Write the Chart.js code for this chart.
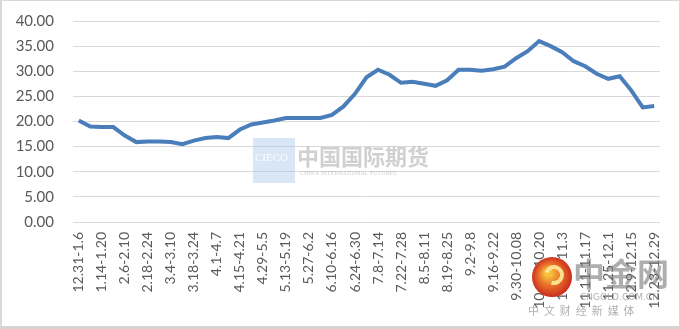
<!DOCTYPE html>
<html>
<head>
<meta charset="utf-8">
<script src="https://cdn.jsdelivr.net/npm/chart.js@4.4.1/dist/chart.umd.min.js"></script>
<style>
html,body{margin:0;padding:0;background:#fff;}
#wrap{position:relative;width:680px;height:329px;box-sizing:border-box;border:1px solid #d9d9d9;border-bottom:3px solid #d4d4d4;border-left:2px solid #d9d9d9;}
canvas{display:block;}
</style>
</head>
<body>
<div id="wrap"><canvas id="c" width="677" height="325"></canvas></div>
<script>
const categories = [
 "12.31-1.6","1.7-1.13","1.14-1.20","1.21-1.27","2.6-2.10","2.11-2.17","2.18-2.24","2.25-3.3",
 "3.4-3.10","3.11-3.17","3.18-3.24","3.25-3.31","4.1-4.7","4.8-4.14","4.15-4.21","4.22-4.28",
 "4.29-5.5","5.6-5.12","5.13-5.19","5.20-5.26","5.27-6.2","6.3-6.9","6.10-6.16","6.17-6.23",
 "6.24-6.30","7.1-7.7","7.8-7.14","7.15-7.21","7.22-7.28","7.29-8.4","8.5-8.11","8.12-8.18",
 "8.19-8.25","8.26-9.1","9.2-9.8","9.9-9.15","9.16-9.22","9.23-9.29","9.30-10.08","10.09-10.13",
 "10.14-10.20","10.21-10.27","10.28-11.3","11.4-11.10","11.11-11.17","11.18-11.24","11.25-12.1","12.2-12.8",
 "12.9-12.15","12.16-12.22","12.23-12.29"
];
const values = [
 20.2,19.0,18.9,18.9,17.2,15.9,16.0,16.0,
 15.9,15.5,16.2,16.7,16.9,16.7,18.4,19.4,
 19.8,20.2,20.7,20.7,20.7,20.7,21.3,23.0,
 25.5,28.8,30.3,29.3,27.7,27.9,27.5,27.1,
 28.2,30.3,30.3,30.1,30.4,30.9,32.6,34.0,
 36.0,35.0,33.8,32.0,31.0,29.5,28.5,29.0,
 26.2,22.8,23.1
];
const yTicks = [0,5,10,15,20,25,30,35,40];

const FONT = "Lato, 'Open Sans', sans-serif";
const TXT = '#595959';

const watermark = {
  id:'watermark',
  beforeDatasetsDraw(chart){
    const ctx = chart.ctx;
    ctx.save();
    ctx.fillStyle = 'rgba(170,200,235,0.45)';
    ctx.fillRect(251,137,42,45);
    ctx.fillStyle = 'rgba(255,255,255,0.85)';
    ctx.font = "11px 'Liberation Serif', serif";
    ctx.textBaseline = 'middle';
    ctx.fillText('CIECO',253,157);
    ctx.fillStyle = 'rgba(150,150,150,0.45)';
    ctx.font = "bold 22px 'Noto Sans CJK SC', sans-serif";
    ctx.fillText('中国国际期货',295,156);
    ctx.font = "6px 'Liberation Serif', serif";
    ctx.fillText('CHINA INTERNATIONAL FUTURES',298,172);
    ctx.restore();
  },
  afterDraw(chart){
    const ctx = chart.ctx;
    ctx.save();
    // text part of the 中金网 mark
    ctx.fillStyle = 'rgba(120,120,120,0.6)';
    ctx.textBaseline = 'middle';
    ctx.font = "bold 32px 'Noto Sans CJK SC', sans-serif";
    ctx.fillText('中金网',571,273);
    ctx.font = "9px 'DejaVu Sans', sans-serif";
    ctx.fillStyle = 'rgba(150,150,150,0.75)';
    ctx.fillText('CNGOLD.COM.CN',578,297);
    ctx.font = "11px 'Noto Sans CJK SC', sans-serif";
    ctx.fillText('中  文  财  经  新  媒  体',526,310);
    // round logo
    const cx = 550, cy = 276;
    const g = ctx.createRadialGradient(cx-4,cy-4,3,cx,cy,21);
    g.addColorStop(0,'#f5c33b');
    g.addColorStop(0.45,'#e8702a');
    g.addColorStop(1,'#c8271d');
    ctx.fillStyle = g;
    ctx.beginPath(); ctx.arc(cx,cy,20,0,Math.PI*2); ctx.fill();
    ctx.strokeStyle = 'rgba(255,230,150,0.95)';
    ctx.lineWidth = 4;
    ctx.beginPath(); ctx.arc(cx+2,cy-2,8,Math.PI*1.1,Math.PI*2.6); ctx.stroke();
    ctx.restore();
  }
};

new Chart(document.getElementById('c'), {
  type:'line',
  data:{
    labels: categories,
    datasets:[{
      data: values,
      borderColor:'#4a7ebb',
      borderWidth:4,
      pointRadius:0,
      tension:0,
      fill:false
    }]
  },
  options:{
    responsive:false,
    animation:false,
    layout:{padding:{left:0,top:20,right:19,bottom:0}},
    plugins:{legend:{display:false},tooltip:{enabled:false}},
    scales:{
      x:{
        offset:true,
        grid:{display:false,drawTicks:false},
        border:{display:false},
        afterFit(s){ s.height = 104; s.paddingLeft = 0; s.paddingRight = 0; },
        ticks:{
          autoSkip:false,
          maxRotation:90,minRotation:90,
          padding:10,
          color:TXT,
          font:{family:FONT,size:14},
          callback(v,i){ return i%2===0 ? categories[i] : ''; }
        }
      },
      y:{
        min:0,max:40,
        afterFit(s){ s.width = 71; s.paddingTop = 0; s.paddingBottom = 0; },
        afterBuildTicks(s){ s.ticks = yTicks.map(v=>({value:v})); },
        grid:{color:'#d9d9d9',lineWidth:1,drawTicks:false},
        border:{display:false},
        ticks:{
          padding:19,
          color:TXT,
          font:{family:FONT,size:15},
          callback(v){ return Number(v).toFixed(2); }
        }
      }
    }
  },
  plugins:[watermark]
});
</script>
</body>
</html>
